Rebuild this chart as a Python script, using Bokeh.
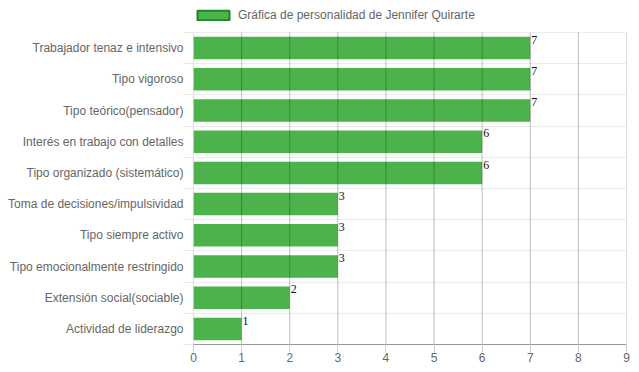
from bokeh.plotting import figure
from bokeh.models import (ColumnDataSource, FixedTicker, Range1d, Legend, LegendItem,
                          LabelSet)
from bokeh.embed import file_html
from bokeh.resources import INLINE

categories = [
    "Trabajador tenaz e intensivo",
    "Tipo vigoroso",
    "Tipo teórico(pensador)",
    "Interés en trabajo con detalles",
    "Tipo organizado (sistemático)",
    "Toma de decisiones/impulsividad",
    "Tipo siempre activo",
    "Tipo emocionalmente restringido",
    "Extensión social(sociable)",
    "Actividad de liderazgo",
]
values = [7, 7, 7, 6, 6, 3, 3, 3, 2, 1]
x_ticks = [0, 1, 2, 3, 4, 5, 6, 7, 8, 9]
series_name = "Gráfica de personalidad de Jennifer Quirarte"

n = len(categories)
centers = [n - i - 0.5 for i in range(n)]
boundaries = list(range(0, n + 1))

src = ColumnDataSource(dict(y=centers, v=values, cat=categories,
                            lbl=[str(v) for v in values],
                            top=[c + 0.36 for c in centers]))
vsrc = ColumnDataSource(dict(x=x_ticks, y0=[0] * len(x_ticks), y1=[n] * len(x_ticks)))

FONT = "Liberation Sans"
GREEN = "#4cb34c"

# frame spans from the very top so the legend (drawn inside the frame) is not clipped
p = figure(width=631, height=364, output_backend="svg", toolbar_location=None,
           x_range=Range1d(0, 9), y_range=Range1d(0, n + 32 / 31.2),
           min_border_left=193, min_border_right=5, min_border_top=0,
           min_border_bottom=20)
p.outline_line_color = None

bars = p.hbar(y="y", right="v", left=0, height=0.72, source=src,
              fill_color=GREEN, line_color=None)

# vertical grid lines limited to the category area, drawn over the bars
p.segment(x0="x", x1="x", y0="y0", y1="y1", source=vsrc,
          line_color="black", line_alpha=0.25, line_width=1)

# legend swatch renderer: zero-size bars (invisible), styled like the legend box
proxy = p.hbar(y="y", right=0, left=0, height=0, source=src,
               fill_color=GREEN, line_color="#1a8a1a", line_width=2)

labels = LabelSet(x="v", y="top", text="lbl", source=src, x_offset=1, y_offset=1,
                  text_font="Liberation Serif", text_font_size="12px",
                  text_color="#111111", text_baseline="top", text_align="left")
p.add_layout(labels)

# axes
p.xaxis.ticker = FixedTicker(ticks=x_ticks)
p.xaxis.axis_line_color = "#999999"
p.xaxis.major_tick_line_color = "#cccccc"
p.xaxis.major_tick_out = 8
p.xaxis.major_tick_in = 0
p.xaxis.minor_tick_line_color = None
p.xaxis.major_label_standoff = 0
p.xaxis.major_label_text_font = FONT
p.xaxis.major_label_text_font_size = "12px"
p.xaxis.major_label_text_color = "#666666"

p.yaxis.ticker = FixedTicker(ticks=centers, minor_ticks=boundaries)
p.yaxis.major_label_overrides = {c: cat for c, cat in zip(centers, categories)}
p.yaxis.axis_line_color = None
p.yaxis.major_tick_line_color = None
p.yaxis.major_tick_out = 0
p.yaxis.major_tick_in = 0
p.yaxis.minor_tick_line_color = "#e6e6e6"
p.yaxis.minor_tick_out = 10
p.yaxis.minor_tick_in = 0
p.yaxis.major_label_standoff = 0
p.yaxis.major_label_text_font = FONT
p.yaxis.major_label_text_font_size = "12px"
p.yaxis.major_label_text_color = "#666666"

# grids
p.xgrid.grid_line_color = None
p.ygrid.ticker = FixedTicker(ticks=boundaries)
p.ygrid.grid_line_color = "black"
p.ygrid.grid_line_alpha = 0.07

legend = Legend(items=[LegendItem(label=series_name, renderers=[proxy])],
                location=(0, 342 - 8 - 12), orientation="horizontal",
                padding=0, margin=0, spacing=0,
                glyph_width=40, glyph_height=12, label_height=12,
                label_standoff=5, border_line_color=None,
                background_fill_alpha=0,
                label_text_font=FONT, label_text_font_size="12px",
                label_text_color="#666666")
p.add_layout(legend, "center")

open("out.html", "w").write(file_html(p, INLINE))
